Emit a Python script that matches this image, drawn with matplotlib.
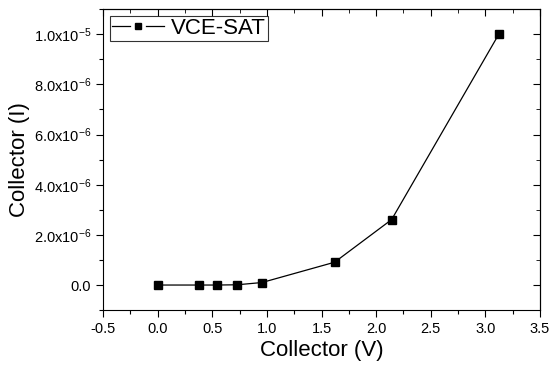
import matplotlib
matplotlib.use('Agg')
import matplotlib.pyplot as plt
from matplotlib.ticker import MultipleLocator
from matplotlib.legend_handler import HandlerBase
from matplotlib.lines import Line2D

plt.rcParams['font.family'] = ['Liberation Sans', 'DejaVu Sans']
plt.rcParams['mathtext.fontset'] = 'custom'
plt.rcParams['mathtext.rm'] = 'Liberation Sans'
plt.rcParams['mathtext.it'] = 'Liberation Sans'

# data
vce = [0.0, 0.38, 0.54, 0.727, 0.955, 1.62, 2.142, 3.127]
ic = [0.0, 0.0, 0.0, 0.01e-6, 0.1e-6, 0.91e-6, 2.61e-6, 10.03e-6]

y_ticks = [0.0, 2e-6, 4e-6, 6e-6, 8e-6, 1e-5]
y_labels = ['0.0', r'$2.0\mathrm{x}10^{-6}$', r'$4.0\mathrm{x}10^{-6}$',
            r'$6.0\mathrm{x}10^{-6}$', r'$8.0\mathrm{x}10^{-6}$', r'$1.0\mathrm{x}10^{-5}$']
x_ticks = [-0.5, 0.0, 0.5, 1.0, 1.5, 2.0, 2.5, 3.0, 3.5]


# Origin-style legend handle: line, gap, marker, gap, line
class GapHandler(HandlerBase):
    def create_artists(self, legend, orig, xdescent, ydescent, width, height, fontsize, trans):
        y = height / 2 - ydescent
        x0 = -xdescent
        gap = width * 0.15
        l1 = Line2D([x0, x0 + width / 2 - gap], [y, y], color='black', lw=0.9)
        l2 = Line2D([x0 + width / 2 + gap, x0 + width], [y, y], color='black', lw=0.9)
        m = Line2D([x0 + width / 2], [y], marker='s', ls='none', ms=4.5, color='black')
        for a in (l1, l2, m):
            a.set_transform(trans)
        return [l1, l2, m]


fig = plt.figure(figsize=(5.51, 3.67), dpi=100)
ax = fig.add_axes([0.187, 0.155, 0.793, 0.82])

line, = ax.plot(vce, ic, color='black', lw=0.9, marker='s', ms=5.5, label='VCE-SAT')

ax.set_xlim(-0.5, 3.5)
ax.set_ylim(-1e-6, 1.1e-5)
ax.set_xticks(x_ticks)
ax.set_xticklabels(['%.1f' % v for v in x_ticks])
ax.xaxis.set_minor_locator(MultipleLocator(0.25))
ax.set_yticks(y_ticks)
ax.set_yticklabels(y_labels)
ax.yaxis.set_minor_locator(MultipleLocator(1e-6))
ax.tick_params(which='major', direction='out', length=5, width=0.8, labelsize=10.5)
ax.tick_params(which='minor', direction='out', length=3, width=0.8)

# mirrored ticks on top/right, pointing inward
top = ax.secondary_xaxis('top')
top.set_xticks(x_ticks)
top.xaxis.set_minor_locator(MultipleLocator(0.25))
top.tick_params(which='both', direction='in', labeltop=False)
top.tick_params(which='major', length=5)
top.tick_params(which='minor', length=3)
right = ax.secondary_yaxis('right')
right.set_yticks(y_ticks)
right.yaxis.set_minor_locator(MultipleLocator(1e-6))
right.tick_params(which='both', direction='in', labelright=False)
right.tick_params(which='major', length=5)
right.tick_params(which='minor', length=3)

ax.set_xlabel('Collector (V)', fontsize=16, labelpad=3)
ax.set_ylabel('Collector (I)', fontsize=16, labelpad=3)

leg = ax.legend(handles=[line], handler_map={line: GapHandler()},
                loc='upper left', fontsize=16, frameon=True, fancybox=False,
                edgecolor='black', borderpad=0.1, handlelength=2.35,
                handletextpad=0.3, borderaxespad=0.3)
leg.get_frame().set_linewidth(0.8)

fig.savefig('out.png', dpi=100)
